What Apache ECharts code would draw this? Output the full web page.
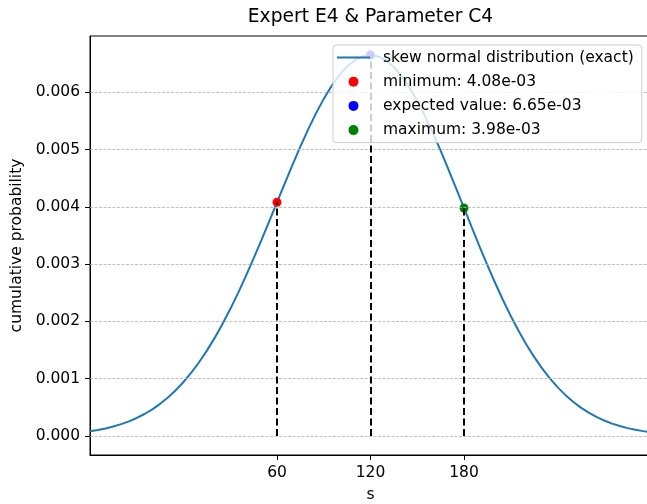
<!DOCTYPE html>
<html>
<head>
<meta charset="utf-8">
<script src="https://cdn.jsdelivr.net/npm/echarts@6/dist/echarts.min.js"></script>
<style>html,body{margin:0;padding:0;background:#fff}#c{width:647px;height:504px}</style>
</head>
<body>
<div id="c"></div>
<script>
// x positions (s) of the sampled curve
const sValues = [-60,-55,-50,-45,-40,-35,-30,-25,-20,-15,-10,-5,0,5,10,15,20,25,30,35,40,45,50,55,60,65,70,75,80,85,90,95,100,105,110,115,120,
  125,130,135,140,145,150,155,160,165,170,175,180,185,190,195,200,205,210,215,220,225,230,235,240,245,250,255,260,265,270,275,280,285,290,295,300];
// curve values
const curveValues = [0.0000819,0.0001042,0.0001317,0.0001654,0.0002061,0.0002553,0.0003139,0.0003835,0.0004652,0.0005608,0.000671,0.000798,0.000942,
  0.001105,0.001287,0.001490,0.001712,0.001954,0.002215,0.002494,0.002790,0.003100,0.003420,0.003748,0.004080,0.004411,0.004737,0.005052,0.005352,
  0.005632,0.005885,0.006109,0.006299,0.006450,0.006560,0.006627,0.006650,
  0.006626,0.006556,0.006440,0.006281,0.006083,0.005849,0.005584,0.005293,0.004982,0.004656,0.004320,0.003980,0.003641,0.003307,0.002982,0.002670,
  0.002374,0.002095,0.001836,0.001598,0.001381,0.001184,0.001009,0.000853,0.000717,0.000598,0.000495,0.000406,0.000332,0.000269,0.000216,0.000173,
  0.000137,0.000108,0.0000844,0.0000656];
// marker points
const markerNames = ['minimum: 4.08e-03', 'expected value: 6.65e-03', 'maximum: 3.98e-03'];
const markerS = [60, 120, 180];
const markerP = [0.00408, 0.00665, 0.00398];
const markerColors = ['#ff0000', '#0000ff', '#008000'];
// ticks
const xTicks = [60, 120, 180];
const yTicks = [0, 0.001, 0.002, 0.003, 0.004, 0.005, 0.006];
const xRange = [-60, 300];
const curveName = 'skew normal distribution (exact)';

const FONT = 'DejaVu Sans';
const FS = 15.5;
const chart = echarts.init(document.getElementById('c'), null, {renderer: 'canvas'});

const series = [];
// grid lines
series.push({
  type: 'line', name: '_grid', data: [], silent: true, z: 1,
  markLine: {
    silent: true, symbol: ['none', 'none'], animation: false,
    label: {show: false},
    lineStyle: {color: '#b0b0b0', width: 0.8, type: [3, 1.5]},
    emphasis: {disabled: true},
    data: yTicks.map(v => [{coord: [xRange[0], v]}, {coord: [xRange[1], v]}])
  }
});
// curve
series.push({
  type: 'line', name: curveName, z: 3,
  data: sValues.map((s, i) => [s, curveValues[i]]),
  showSymbol: false, symbol: 'none',
  lineStyle: {color: '#1f77b4', width: 2},
  itemStyle: {color: '#1f77b4'},
  animation: false
});
// markers
markerNames.forEach((n, i) => {
  series.push({
    type: 'scatter', name: n, z: 4,
    data: [[markerS[i], markerP[i]]],
    symbol: 'circle', symbolSize: 9,
    itemStyle: {color: markerColors[i], opacity: 1},
    animation: false
  });
});
// vertical dashed lines
series.push({
  type: 'line', name: '_vlines', data: [], silent: true, z: 5,
  markLine: {
    silent: true, symbol: ['none', 'none'], animation: false,
    label: {show: false},
    lineStyle: {color: '#000000', width: 2, type: [7, 3.5]},
    emphasis: {disabled: true},
    data: markerS.map((s, i) => [{coord: [s, 0]}, {coord: [s, markerP[i]]}])
  }
});

chart.setOption({
  animation: false,
  backgroundColor: '#ffffff',
  textStyle: {fontFamily: FONT},
  title: {
    text: 'Expert E4 & Parameter C4',
    left: 365.5, top: 3, textAlign: 'center',
    textStyle: {fontFamily: FONT, fontSize: 18.7, fontWeight: 'normal', color: '#000'}
  },
  grid: {left: 90, right: -4, top: 36, bottom: 49, show: true, borderColor: '#000', borderWidth: 1, backgroundColor: 'transparent',
    containLabel: false, outerBoundsMode: 'none'},
  legend: {
    orient: 'vertical', left: 333, top: 45,
    padding: [4.5, 8, 4.5, 4],
    itemWidth: 33, itemHeight: 10, itemGap: 8.2,
    backgroundColor: 'rgba(255,255,255,0.8)', borderColor: '#cccccc', borderWidth: 1, borderRadius: 3,
    textStyle: {fontFamily: FONT, fontSize: FS, color: '#000', padding: [0, 0, 0, 8]},
    z: 10,
    selectedMode: false,
    data: [
      {name: curveName, icon: 'path://M0,0H33V2H0Z'},
      {name: markerNames[0], icon: 'circle'},
      {name: markerNames[1], icon: 'circle'},
      {name: markerNames[2], icon: 'circle'}
    ]
  },
  xAxis: {
    type: 'value', min: xRange[0], max: xRange[1],
    name: 's', nameLocation: 'middle', nameGap: 32,
    nameTextStyle: {fontFamily: FONT, fontSize: FS, color: '#000'},
    axisLine: {show: true, onZero: false, lineStyle: {color: '#000', width: 1}},
    axisTick: {show: true, length: 5, inside: false, customValues: xTicks, lineStyle: {color: '#000', width: 1}},
    axisLabel: {show: true, margin: 10, customValues: xTicks, fontFamily: FONT, fontSize: FS, color: '#000', formatter: v => String(v)},
    splitLine: {show: false}
  },
  yAxis: {
    type: 'value', min: -0.0003325, max: 0.0069825,
    name: 'cumulative probability', nameLocation: 'middle', nameGap: 61, nameRotate: 90,
    nameTextStyle: {fontFamily: FONT, fontSize: FS, color: '#000'},
    axisLine: {show: true, onZero: false, lineStyle: {color: '#000', width: 1}},
    axisTick: {show: true, length: 5, inside: false, customValues: yTicks, lineStyle: {color: '#000', width: 1}},
    axisLabel: {show: true, margin: 10, customValues: yTicks, fontFamily: FONT, fontSize: FS, color: '#000', formatter: v => v.toFixed(3)},
    splitLine: {show: false}
  },
  series: series
});
</script>
</body>
</html>
